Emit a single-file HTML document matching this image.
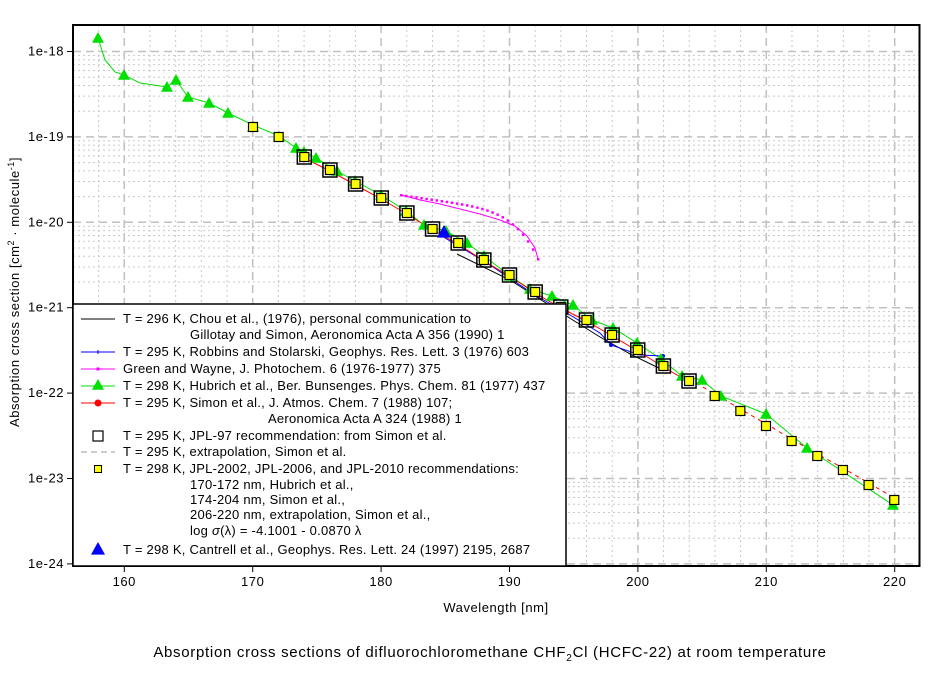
<!DOCTYPE html>
<html><head><meta charset="utf-8"><style>
body{margin:0;background:#fff;}
svg text{font-family:"Liberation Sans",sans-serif;font-size:13px;letter-spacing:0.55px;fill:#000;}
#legend text{letter-spacing:0.25px;}
</style></head><body>
<svg id="s" width="944" height="669" xmlns="http://www.w3.org/2000/svg">
<rect width="944" height="669" fill="#fff"/>
<g id="grid"></g>
<g id="data"></g>
<rect x="73" y="25" width="846.5" height="541" fill="none" stroke="#000" stroke-width="2"/>
<g id="ticks"></g>
<g id="legend">
<rect x="73" y="304" width="493" height="262" fill="#fff" stroke="#000" stroke-width="1.5"/>
</g>
<text x="496" y="612" text-anchor="middle">Wavelength [nm]</text>
<text transform="translate(19,292) rotate(-90)" text-anchor="middle">Absorption cross section [cm<tspan dy="-5" font-size="9">2</tspan><tspan dy="5"> · molecule</tspan><tspan dy="-5" font-size="9">-1</tspan><tspan dy="5">]</tspan></text>
<text x="490" y="657" text-anchor="middle" style="font-size:15px;letter-spacing:0.7px">Absorption cross sections of difluorochloromethane CHF<tspan dy="4" font-size="10">2</tspan><tspan dy="-4">Cl (HCFC-22)  at room temperature</tspan></text>
</svg>
<script>
const NS="http://www.w3.org/2000/svg";
function el(p,t,a){const e=document.createElementNS(NS,t);for(const k in a)e.setAttribute(k,a[k]);p.appendChild(e);return e;}
const X=w=>124.3+(w-160)*12.84, Y=l=>51.5+(-18-l)*85.4;
const g=document.getElementById('grid'),tk=document.getElementById('ticks'),d=document.getElementById('data'),lg=document.getElementById('legend');
for(let w=158;w<=220;w+=2){const x=X(w);const maj=w%10==0;
 el(g,'line',{x1:x,x2:x,y1:25,y2:566,stroke:maj?'#c0c0c0':'#c8c8c8','stroke-width':maj?1.5:1,'stroke-dasharray':maj?'8,5':'2,3'});
 if(maj){el(tk,'line',{x1:x,x2:x,y1:566,y2:572,stroke:'#000'});const t=el(tk,'text',{x:x,y:586,'text-anchor':'middle'});t.textContent=w;}}
for(let e=-24;e<=-18;e++){for(let m=1;m<10;m++){const l=e+Math.log10(m);const y=Y(l);if(y<26||y>565&&m>1)continue;
 el(g,'line',{x1:73,x2:919,y1:y,y2:y,stroke:m==1?'#c0c0c0':'#c8c8c8','stroke-width':m==1?1.5:1,'stroke-dasharray':m==1?'8,5':'2,3'});}
 const y=Y(e);el(tk,'line',{x1:67,x2:73,y1:y,y2:y,stroke:'#000'});const t=el(tk,'text',{x:64,y:y+4,'text-anchor':'end'});t.textContent='1e'+e;}
function pl(pts,c,w,da){const a={points:pts.map(p=>p.join(',')).join(' '),fill:'none',stroke:c,'stroke-width':w||1};if(da)a['stroke-dasharray']=da;el(d,'polyline',a);}
function tri(p,x,y,c,s){s=s||6;el(p,'polygon',{points:`${x},${y-s} ${x-s},${y+s*0.8} ${x+s},${y+s*0.8}`,fill:c});}
const green=[[98,38],[124,75],[167,87],[176,80],[188,97],[209,103],[228,113],[253,127],[279,137],[296,148],[304,152],[316,158],[337,171],[355,181],[381,195],[406,211],[424,225],[446,231],[467,243],[484,256],[510,276],[530,289],[552,296],[573,305],[592,320],[613,328],[637,343],[661,359],[682,376],[702,380],[721,396],[766,414],[807,448],[893,505]];
const sq=[];for(let i=0;i<26;i++)sq.push([253+i*25.65,[127,137,157,170,184,198,213,229,243,260,275,292,307,320,335,350,366,381,396,411,426,441,456,470,485,500][i]]);
pl([[98,38],[105,60],[115,72],[124,75],[140,83],[167,87],[176,80],[188,97],[209,103],[228,113],[253,125],[279,136]].concat(green.slice(9)),'#00e000');
pl([[401,195],[420,200],[440,204],[460,209],[480,214],[500,220],[515,226],[527,236],[535,248],[538,259]],'#ff00ff',1);
for(let i=0;i<28;i++){const t=i/27;const x=401+t*137;const y=195+t*20+Math.pow(t,6)*44;el(d,'rect',{x:x-1,y:y-1,width:2.5,height:2.5,fill:'#ff00ff'});}
pl([[457,254],[510,280],[560,312],[600,337],[632,355],[663,370]],'#000');
pl([[440,235],[484,261],[535,295],[570,315],[600,333],[611,345],[640,355],[663,356]],'#0000ff');
el(d,'circle',{cx:611,cy:345,r:2,fill:'#0000ff'});el(d,'circle',{cx:663,cy:356,r:2,fill:'#0000ff'});
pl(sq.slice(2,18).map(p=>[p[0],p[1]+1]),'#ff0000');
pl(sq.slice(17).map(p=>[p[0],p[1]-2]),'#ff0000',1,'4,4');
for(const p of green)tri(d,p[0],p[1],'#00e000',6);
for(let i=2;i<=17;i++){const p=sq[i];el(d,'rect',{x:p[0]-7,y:p[1]-7,width:14,height:14,fill:'none',stroke:'#000','stroke-width':1.5});}
for(const p of sq)el(d,'rect',{x:p[0]-4.5,y:p[1]-4.5,width:9,height:9,fill:'#ffff00',stroke:'#000','stroke-width':1.2});
tri(d,444,232,'#0000ff',7);
const rows=[[319,123,'T = 296 K, Chou et al., (1976), personal communication to'],[335,190,'Gillotay and Simon, Aeronomica Acta A 356 (1990) 1'],[352,123,'T = 295 K, Robbins and Stolarski, Geophys. Res. Lett. 3 (1976) 603'],[369,123,'Green and Wayne, J. Photochem. 6 (1976-1977) 375'],[386,123,'T = 298 K, Hubrich et al., Ber. Bunsenges. Phys. Chem. 81 (1977) 437'],[403,123,'T = 295 K, Simon et al., J. Atmos. Chem. 7 (1988) 107;'],[419,268,'Aeronomica Acta A 324 (1988) 1'],[436,123,'T = 295 K, JPL-97 recommendation: from Simon et al.'],[452,123,'T = 295 K, extrapolation, Simon et al.'],[469,123,'T = 298 K, JPL-2002, JPL-2006, and JPL-2010 recommendations:'],[485,190,'170-172 nm, Hubrich et al.,'],[500,190,'174-204 nm, Simon et al.,'],[515,190,'206-220 nm, extrapolation, Simon et al.,'],[550,123,'T = 298 K, Cantrell et al., Geophys. Res. Lett. 24 (1997) 2195, 2687']];
for(const r of rows){const t=el(lg,'text',{x:r[1],y:r[0]+4});t.textContent=r[2];}
const t=el(lg,'text',{x:190,y:535});t.innerHTML='log <tspan font-style="italic">σ</tspan>(λ) = -4.1001 - 0.0870 λ';
const L=(y,c)=>el(lg,'line',{x1:81,x2:115,y1:y,y2:y,stroke:c});
L(319,'#000');L(352,'#0000ff');el(lg,'line',{x1:98,x2:98,y1:350,y2:354,stroke:'#0000ff'});
L(369,'#ff00ff');el(lg,'rect',{x:96.5,y:367.5,width:3,height:3,fill:'#ff00ff'});
L(386,'#00e000');tri(lg,98,385,'#00e000',6);
L(403,'#ff0000');el(lg,'circle',{cx:98,cy:403,r:3.5,fill:'#ff0000'});
el(lg,'rect',{x:93,y:431,width:10,height:10,fill:'none',stroke:'#000','stroke-width':1.2});
el(lg,'line',{x1:81,x2:115,y1:452,y2:452,stroke:'#999','stroke-dasharray':'6,4'});
el(lg,'rect',{x:94.5,y:465.5,width:7,height:7,fill:'#ffff00',stroke:'#000'});
tri(lg,98,549,'#0000ff',7);
</script>
</body></html>
